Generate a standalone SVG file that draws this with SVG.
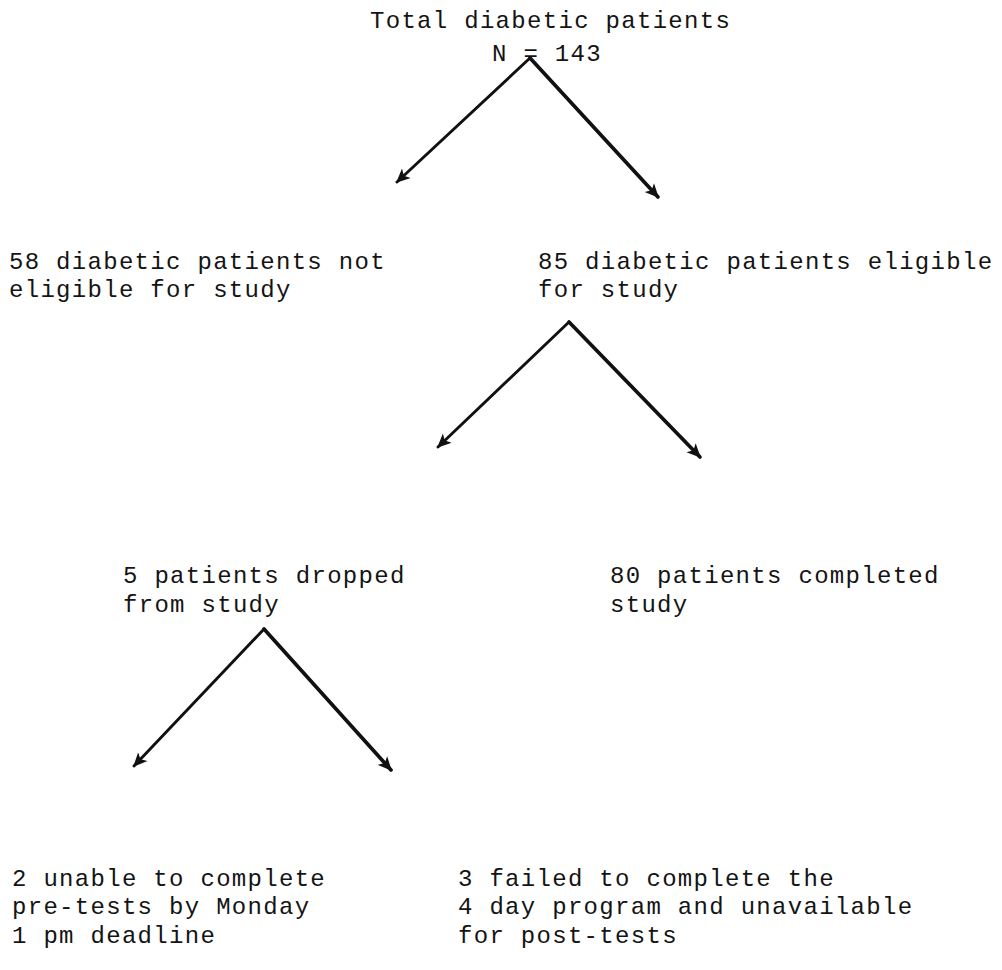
<svg xmlns="http://www.w3.org/2000/svg" width="1002" height="970" viewBox="0 0 1002 970">
  <style>
    .t { font-family: "Liberation Mono", "DejaVu Sans Mono", monospace; font-size: 24px; letter-spacing: 1.3px; fill: #141414; }
    .c { fill: none; stroke: #111; stroke-linecap: round; }
    .thin { stroke-width: 2.9; }
    .thick { stroke-width: 3.7; }
  </style>
  <defs>
    <marker id="ah" viewBox="0 0 12 12" refX="11" refY="6" markerWidth="14" markerHeight="14" markerUnits="userSpaceOnUse" orient="auto">
      <path d="M0,0.5 L12,6 L0,11.5 L3,6 z" fill="#111"/>
    </marker>
  </defs>
  <rect width="1002" height="970" fill="#ffffff"/>

  <g id="connectors">
    <line class="c thin" x1="530" y1="58" x2="397" y2="182" marker-end="url(#ah)"/>
    <line class="c thick" x1="530" y1="58" x2="658" y2="197" marker-end="url(#ah)"/>
    <line class="c thin" x1="569" y1="322" x2="438" y2="447" marker-end="url(#ah)"/>
    <line class="c thick" x1="569" y1="322" x2="700" y2="457" marker-end="url(#ah)"/>
    <line class="c thin" x1="264" y1="629" x2="134" y2="766" marker-end="url(#ah)"/>
    <line class="c thick" x1="264" y1="629" x2="391" y2="770" marker-end="url(#ah)"/>
  </g>

  <g id="node-total">
    <text class="t" x="370" y="28">Total diabetic patients</text>
    <text class="t" x="492" y="61">N = 143</text>
  </g>
  <g id="node-not-eligible">
    <text class="t" x="9" y="269">58 diabetic patients not</text>
    <text class="t" x="9" y="297">eligible for study</text>
  </g>
  <g id="node-eligible">
    <text class="t" x="538" y="269">85 diabetic patients eligible</text>
    <text class="t" x="538" y="297">for study</text>
  </g>
  <g id="node-dropped">
    <text class="t" x="123" y="583">5 patients dropped</text>
    <text class="t" x="123" y="612">from study</text>
  </g>
  <g id="node-completed">
    <text class="t" x="610" y="583">80 patients completed</text>
    <text class="t" x="610" y="612">study</text>
  </g>
  <g id="node-unable">
    <text class="t" x="12" y="886">2 unable to complete</text>
    <text class="t" x="12" y="914">pre-tests by Monday</text>
    <text class="t" x="12" y="943">1 pm deadline</text>
  </g>
  <g id="node-failed">
    <text class="t" x="458" y="886">3 failed to complete the</text>
    <text class="t" x="458" y="914">4 day program and unavailable</text>
    <text class="t" x="458" y="943">for post-tests</text>
  </g>
</svg>
